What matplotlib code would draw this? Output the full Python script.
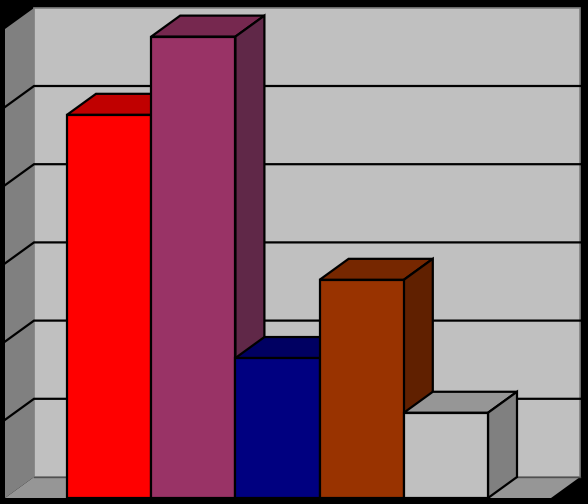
#!/usr/bin/env python3
import matplotlib
matplotlib.use('Agg')
import matplotlib.pyplot as plt
from matplotlib.patches import Polygon

values = [4.9, 5.9, 1.79, 2.79, 1.09]
front_colors = ['#FF0000', '#993366', '#000080', '#993300', '#C0C0C0']
top_colors = ['#C00000', '#76284F', '#000062', '#762700', '#969696']
side_colors = ['#C00000', '#602848', '#000050', '#602000', '#808080']
grid_values = [1, 2, 3, 4, 5]

# one category = 84.2 px, one unit = 78.2 px
XU = 84.2
YU = 78.2
DX = 29 / XU
DY = 21 / YU
WALL_X0 = -62 / XU
FLOOR_X1 = 484 / XU
TOP = 469 / YU  # height of the back wall above the floor line

fig = plt.figure(figsize=(5.88, 5.04), dpi=100, facecolor='black')
ax = fig.add_axes([0, 0, 1, 1])
ax.set_xlim(-67 / XU, (588 - 67) / XU)
ax.set_ylim(-6 / YU, 498 / YU)
ax.axis('off')

z = [1]


def poly(pts, fc, ec='black', lw=1.6):
    # later shapes always sit on top of earlier ones
    z[0] += 1
    ax.add_patch(Polygon(pts, closed=True, facecolor=fc, edgecolor=ec,
                         linewidth=lw, joinstyle='miter', zorder=z[0]))


def line(xs, ys, color='black', lw=1.6):
    z[0] += 1
    ax.plot(xs, ys, color=color, lw=lw, solid_joinstyle='miter', zorder=z[0])


wall_left = WALL_X0 + DX
wall_right = FLOOR_X1 + DX

# walls and floor
poly([(wall_left, DY), (wall_right, DY), (wall_right, DY + TOP), (wall_left, DY + TOP)],
     '#C0C0C0', ec='#808080', lw=1.2)
poly([(WALL_X0, 0), (wall_left, DY), (wall_left, DY + TOP), (WALL_X0, TOP)],
     '#808080', ec='none', lw=0)
poly([(WALL_X0, 0), (wall_left, DY), (wall_right, DY), (FLOOR_X1, 0)],
     '#969696', ec='none', lw=0)
line([wall_left, wall_right], [DY, DY], color='#505050', lw=1)

# gridlines run along the left wall and the back wall
for g in grid_values:
    line([WALL_X0, wall_left, wall_right], [g, g + DY, g + DY])

# bars, left to right so each one covers the side of the previous one
for i, v in enumerate(values):
    poly([(i, v), (i + DX, v + DY), (i + 1 + DX, v + DY), (i + 1, v)], top_colors[i])
    poly([(i + 1, 0), (i + 1 + DX, DY), (i + 1 + DX, v + DY), (i + 1, v)], side_colors[i])
    poly([(i, 0), (i + 1, 0), (i + 1, v), (i, v)], front_colors[i])

fig.savefig('out.png', dpi=100, facecolor='black')
